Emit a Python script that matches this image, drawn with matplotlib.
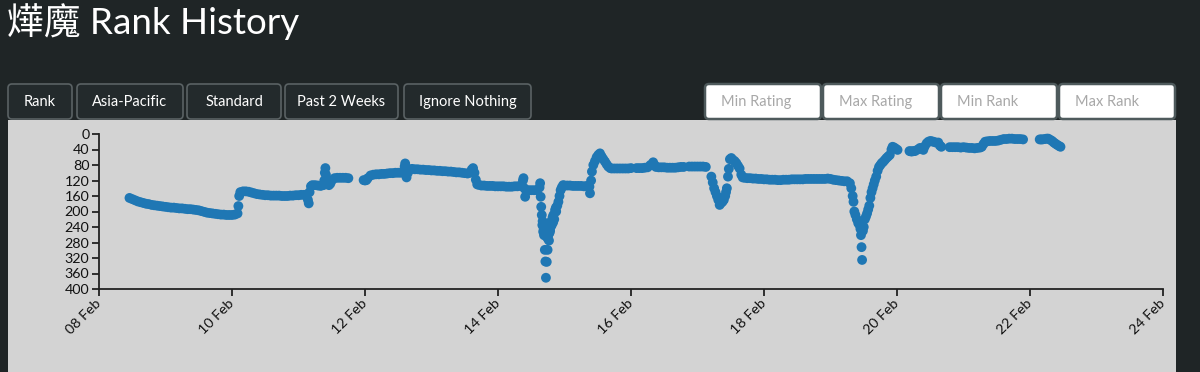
import matplotlib
matplotlib.use("Agg")
import matplotlib.pyplot as plt
from matplotlib.patches import FancyBboxPatch, Rectangle
from datetime import datetime, timedelta

# ---------------- data ----------------
title = "燁魔 Rank History"
buttons = ["Rank", "Asia-Pacific", "Standard", "Past 2 Weeks", "Ignore Nothing"]
inputs = ["Min Rating", "Max Rating", "Min Rank", "Max Rank"]
y_ticks = [0, 40, 80, 120, 160, 200, 240, 280, 320, 360, 400]
x_tick_days = [8, 10, 12, 14, 16, 18, 20, 22, 24]
start = datetime(2021, 2, 8)

# hours since 08 Feb 00:00
hours = [
    11, 12, 13, 14, 15, 16, 17, 18, 19, 20, 21, 22, 23, 24, 25, 26, 27, 28, 29, 30,
    31, 32, 33, 34, 35, 36, 37, 38, 39, 40, 41, 42, 43, 44, 45, 46, 47, 48, 49, 50,
    50.3, 50.6, 51,
    52, 53, 54, 55, 56, 57, 58, 59, 60, 61, 62, 63, 64, 65, 66, 67, 68, 69, 70, 71,
    72, 73, 74, 75,
    75.4, 75.7, 76, 76.5, 77, 78, 79, 80, 81, 81.3, 81.5, 81.7, 81.9, 82.2, 83, 83.5,
    84, 85, 86, 87, 88, 89, 90,
    95.5, 96, 96.5, 97, 98, 99, 100, 101, 102, 103, 104, 105, 106, 107, 108, 109,
    110, 110.3, 110.5, 110.7, 111, 111.5, 112, 113, 114, 115, 116, 117, 118, 119,
    120, 121, 122, 123, 124, 125, 126, 127, 128, 129, 130, 131, 132, 133, 134,
    134.5, 135, 135.5, 136, 136.5,
    137, 138, 139, 140, 141, 142, 143, 144, 145, 146, 147, 148, 149, 150, 151, 152,
    153, 153.2, 153.5, 153.8, 154.3, 155, 156, 157, 158, 159, 159.2, 159.4, 159.6,
    159.8, 160, 160.3, 160.6, 160.9, 161.1, 161.3, 161.6, 161.9, 162.2, 162.5, 162.8,
    163.1, 163.4, 163.7, 164, 164.3, 164.6, 165, 165.4, 165.8, 166.2, 166.6, 167,
    167.5, 160.1, 160.5, 162.0, 162.4, 163.0, 163.9, 164.9, 161.5, 162.6,
    168, 169, 170, 171, 172, 173, 174, 175, 176, 177, 177.2, 177.6, 177.9, 178.4,
    179, 179.6, 180.2, 180.8, 181.4, 182, 182.6, 183.2, 183.8, 184.5,
    185, 186, 187, 188, 189, 190, 191, 192, 194, 195, 196, 197, 198, 199, 200, 200.5,
    201, 202, 203, 204, 205, 206, 207, 208, 209, 210, 211, 213, 214, 215, 216, 217,
    218, 219,
    221, 221.5, 222, 222.5, 223, 223.5, 224, 224.5, 225, 225.5, 226, 226.3, 226.6,
    227, 227.3, 227.7, 228.2, 228.8, 229.4, 230, 230.6, 231.2, 231.8, 232.3,
    233, 234, 235, 236, 237, 238, 239, 240, 241, 242, 243, 244, 245, 246, 247, 248,
    249, 250, 251, 252, 253, 254, 255, 256, 257, 258, 259, 260, 261, 262, 263, 264,
    265, 266, 267, 268, 269, 270, 271,
    271.5, 272, 272.3, 272.6, 273, 273.5, 274, 274.5, 274.8, 275, 275.2, 275.4,
    275.7, 276, 276.4, 276.8, 277.2, 277.6, 278, 278.4, 278.8, 279.2, 279.6, 280,
    280.5, 281, 281.5, 282, 282.5, 283, 283.6, 284.2, 284.8, 285.4, 286, 286.4, 287,
    287.6, 288.2,
    292.5, 293, 293.5, 294, 294.5, 295.5, 296.3, 297, 297.5, 298, 298.7, 299.3, 300,
    300.6, 301.2, 302, 302.9, 303.5, 304,
    307, 308, 309, 310, 311, 312, 313, 314, 315, 316, 317, 318, 318.6, 319.2, 319.8,
    320.5, 321.5, 322.5, 323.5, 324.5, 325.5, 326.5, 327.5, 328.5, 329.5, 330.5,
    331.5, 332.5, 333.5,
    339.5, 340, 340.5, 341.3, 342, 342.6, 343.3, 344, 344.6, 345.2, 345.8, 346.5, 347,
]
ranks = [
    165, 168, 171, 174, 176, 178, 180, 181, 183, 184, 185, 186, 187, 188, 189, 190, 190, 191, 192, 192,
    193, 194, 194, 195, 196, 197, 199, 201, 203, 204, 205, 206, 207, 208, 208, 209, 209, 209, 208, 205,
    186, 160, 150,
    148, 148, 149, 151, 153, 155, 156, 157, 158, 158, 159, 159, 159, 159, 160, 160, 160, 159, 159, 158,
    158, 157, 157, 156,
    170, 179, 150, 135, 132, 132, 133, 134, 132, 120, 100, 88, 105, 128, 132, 128,
    120, 114, 113, 113, 113, 113, 114,
    119, 120, 119, 114, 107, 105, 104, 104, 103, 103, 102, 101, 101, 100, 100, 100,
    95, 84, 76, 90, 112, 100, 91, 90, 91, 91, 92, 92, 93, 93,
    94, 94, 95, 95, 96, 96, 97, 97, 98, 99, 99, 100, 101, 102, 100,
    92, 88, 100, 118, 130,
    131, 133, 133, 134, 134, 134, 135, 135, 135, 135, 136, 136, 136, 135, 135, 134,
    120, 114, 140, 162, 148, 145, 145, 145, 145, 138, 127, 162, 188,
    209, 235, 252, 261, 299, 329, 371, 330, 299, 260, 240, 250,
    226, 235, 215, 209, 220, 196, 200, 185, 175, 160, 145, 138,
    132, 225, 245, 270, 275, 240, 228, 190, 265, 255,
    133, 133, 133, 134, 134, 134, 134, 135, 134, 136, 153, 120, 97, 80,
    70, 60, 54, 50, 58, 65, 71, 78, 84, 88,
    89, 89, 89, 89, 89, 89, 89, 88, 88, 88, 88, 87, 86, 80, 73, 80,
    85, 86, 86, 86, 87, 87, 87, 87, 86, 85, 85, 84, 84, 84, 84, 84,
    84, 85,
    110, 125, 140, 150, 160, 170, 183, 178, 175, 170, 160, 150, 140,
    110, 90, 65, 62, 67, 70, 75, 82, 89, 105, 112,
    113, 114, 114, 115, 115, 116, 116, 117, 117, 118, 118, 118, 119, 119, 118, 118,
    118, 117, 117, 117, 117, 117, 116, 116, 116, 116, 116, 116, 116, 116, 115, 116,
    118, 119, 120, 121, 122, 122, 127,
    140, 160, 175, 200, 209, 220, 230, 235, 245, 261, 292, 325,
    250, 240, 220, 213, 205, 195, 185, 165, 150, 140, 130, 120,
    110, 95, 85, 80, 75, 72, 67, 62, 58, 54, 40, 33, 35,
    38, 41,
    44, 45, 45, 44, 44, 40, 36, 38, 41, 32, 24, 20, 18,
    19, 20, 22, 22, 30, 33,
    34, 34, 34, 34, 35, 34, 35, 36, 36, 37, 36, 35, 33, 26, 20,
    19, 18, 18, 18, 17, 15, 13, 13, 12, 12, 13,
    13, 13, 14,
    14, 14, 14, 13, 12, 12, 15, 18, 22, 25, 28, 31, 33,
]

# ---------------- styling ----------------
W, H = 1200, 372
BG = "#1f2526"
PANEL = "#d3d3d3"
DOT = "#1f77b4"
AX_COL = "#222222"
LATIN = "Lato"
CJK = ["Lato", "Noto Sans CJK TC", "DejaVu Sans"]

fig = plt.figure(figsize=(W / 100, H / 100), dpi=100, facecolor=BG)

# pixel overlay for page elements
page = fig.add_axes([0, 0, 1, 1], zorder=0)
page.set_xlim(0, W)
page.set_ylim(H, 0)
page.axis("off")

page.add_patch(Rectangle((8, 120), 1168, 260, facecolor=PANEL, edgecolor="none"))

page.text(7, 34, title, color="white", fontsize=26.5, family=CJK, va="baseline", ha="left")

btn_x = [(8, 72), (77, 183), (187, 281), (285, 398), (404, 531)]
for (x0, x1), lab in zip(btn_x, buttons):
    p = FancyBboxPatch((x0, 84), x1 - x0, 35, boxstyle="round,pad=0,rounding_size=4",
                       facecolor="#232a2c", edgecolor="#5a6264", linewidth=1.2)
    page.add_patch(p)
    page.text((x0 + x1) / 2, 102, lab, color="white", fontsize=10.5, family=LATIN,
              ha="center", va="center")

inp_x = [(705, 821), (823, 939), (941, 1057), (1059, 1175)]
for (x0, x1), lab in zip(inp_x, inputs):
    p = FancyBboxPatch((x0, 84), x1 - x0, 35, boxstyle="round,pad=0,rounding_size=4",
                       facecolor="white", edgecolor="#4e5a5c", linewidth=1.8)
    page.add_patch(p)
    t = page.text(x0 + 16, 102, lab, color="#a8a8a8", fontsize=10.5, family=LATIN,
                  ha="left", va="center")
    clip = Rectangle((x0, 84), x1 - x0 - 8, 35, transform=page.transData)
    t.set_clip_path(clip)

# chart axes
left, right, top, bottom = 99, 1163, 134, 289
ax = fig.add_axes([left / W, (H - bottom) / H, (right - left) / W, (bottom - top) / H], zorder=1)
ax.patch.set_alpha(0)

times = [start + timedelta(hours=h) for h in hours]
ax.scatter(times, ranks, s=50, color=DOT, edgecolors="none", clip_on=False, zorder=3)

ax.set_ylim(400, 0)
ax.set_yticks(y_ticks)
ax.set_yticklabels([str(v) for v in y_ticks])
xt = [datetime(2021, 2, d) for d in x_tick_days]
ax.set_xlim(xt[0], xt[-1])
ax.set_xticks(xt)
ax.set_xticklabels([d.strftime("%d Feb") for d in xt])

for s in ["top", "right"]:
    ax.spines[s].set_visible(False)
for s in ["left", "bottom"]:
    ax.spines[s].set_color(AX_COL)
    ax.spines[s].set_linewidth(1.3)

ax.tick_params(axis="both", colors=AX_COL, length=5, width=1.3, direction="out")
ax.tick_params(axis="y", pad=2, labelsize=10.3)
ax.tick_params(axis="x", pad=4, labelsize=10.3)
for lab in ax.get_yticklabels():
    lab.set_family(LATIN)
    lab.set_color("#111111")
for lab in ax.get_xticklabels():
    lab.set_family(LATIN)
    lab.set_color("#111111")
    lab.set_rotation(45)
    lab.set_ha("right")
    lab.set_va("center")
    lab.set_rotation_mode("anchor")

fig.savefig("out.png", dpi=100, facecolor=BG)
